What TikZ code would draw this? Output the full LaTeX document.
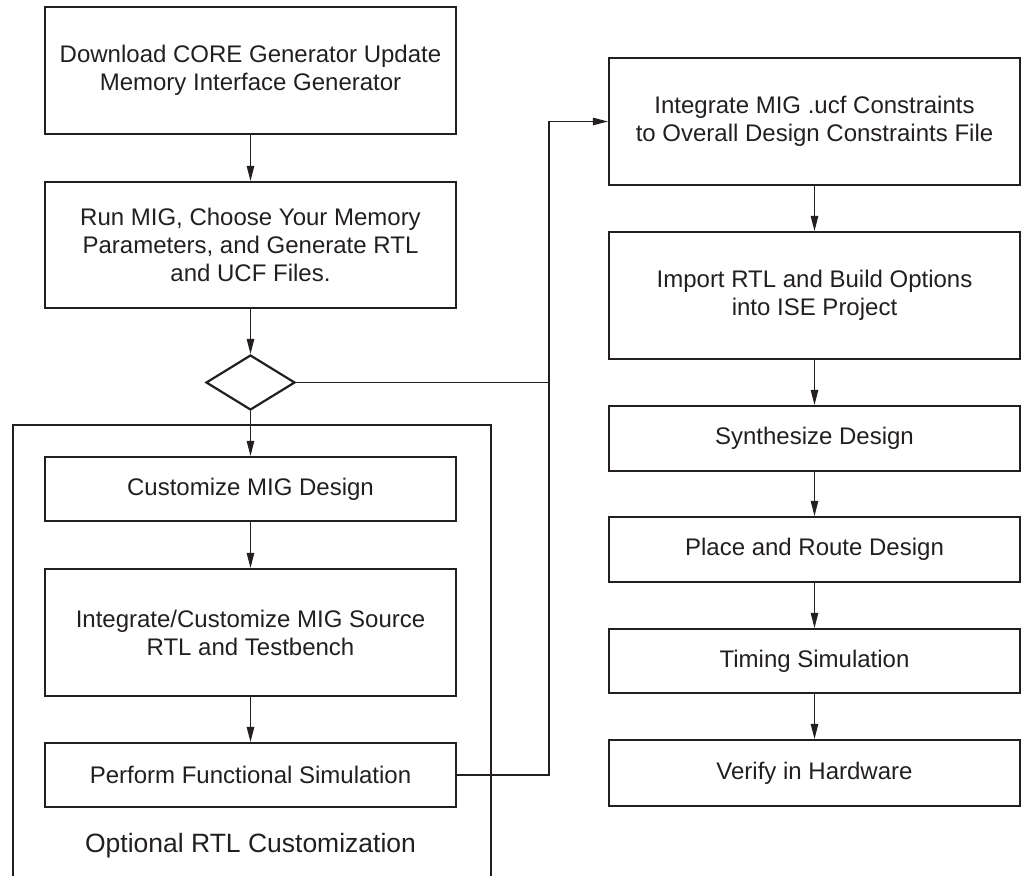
\documentclass[tikz,border=0pt]{standalone}
\usepackage{fontspec}
\setmainfont{Liberation Sans}
\usetikzlibrary{arrows.meta,shapes.geometric}
\definecolor{ink}{HTML}{231F20}
\begin{document}
\begin{tikzpicture}[x=1pt,y=-1pt,
  box/.style={draw=ink, line width=2.2pt, rectangle, inner sep=0pt, align=center, text=ink,
              font=\fontsize{24}{28}\selectfont},
  lbox/.style={box, minimum width=411pt},
  conn/.style={draw=ink, line width=1.1pt, -{Triangle[length=15pt,width=7.5pt]}},
  wire/.style={draw=ink, line width=1.1pt},
  frame/.style={draw=ink, line width=2.2pt},
  caption/.style={text=ink, font=\fontsize{26.5}{30}\selectfont, inner sep=0pt}]
\useasboundingbox (0,0) rectangle (1021,876);

% left column
\node[lbox, minimum height=127pt] (b1) at (250.5,70.5) {Download CORE Generator Update\\Memory Interface Generator};
\node[lbox, minimum height=126pt] (b2) at (250.5,245) {Run MIG, Choose Your Memory\\Parameters, and Generate RTL\\and UCF Files.};
\node[draw=ink, line width=2.2pt, diamond, inner sep=0pt, minimum width=89pt, minimum height=55pt] (d) at (250.5,382.5) {};

% optional customization frame (open at the bottom)
\coordinate (fl) at (13,876);
\coordinate (fr) at (491,876);
\draw[frame] (fl) -- (13,425) -- (491,425) -- (fr);

\node[lbox, minimum height=64pt] (b3) at (250.5,489) {Customize MIG Design};
\node[lbox, minimum height=127pt] (b4) at (250.5,632.5) {Integrate/Customize MIG Source\\RTL and Testbench};
\node[lbox, minimum height=64pt] (b5) at (250.5,775) {Perform Functional Simulation};
\node[caption] (cap) at (250.5,846) {Optional RTL Customization};

% right column
\node[lbox, minimum height=127pt] (r1) at (814.5,121.5) {Integrate MIG .ucf Constraints\\to Overall Design Constraints File};
\node[lbox, minimum height=127pt] (r2) at (814.5,295.5) {Import RTL and Build Options\\into ISE Project};
\node[lbox, minimum height=65pt] (r3) at (814.5,438.5) {Synthesize Design};
\node[lbox, minimum height=65pt] (r4) at (814.5,549.5) {Place and Route Design};
\node[lbox, minimum height=64pt] (r5) at (814.5,661) {Timing Simulation};
\node[lbox, minimum height=66pt] (r6) at (814.5,773) {Verify in Hardware};

% connectors
\draw[conn] (b1) -- (b2);
\draw[conn] (b2) -- (d);
\draw[conn] (d) -- (b3);
\draw[conn] (b3) -- (b4);
\draw[conn] (b4) -- (b5);

\coordinate (bus) at (549,0);
\draw[wire] (d.east) -- (d.east -| bus);
\draw[conn] (b5.east) -- (b5.east -| bus) |- (r1.west);

\draw[conn] (r1) -- (r2);
\draw[conn] (r2) -- (r3);
\draw[conn] (r3) -- (r4);
\draw[conn] (r4) -- (r5);
\draw[conn] (r5) -- (r6);
\end{tikzpicture}
\end{document}
